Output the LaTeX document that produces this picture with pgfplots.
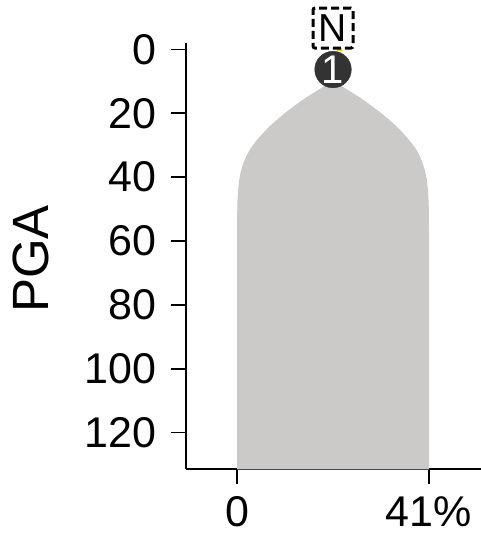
\documentclass[border=0pt]{standalone}
\usepackage{fontspec}
\setmainfont{Liberation Sans}
\usepackage{pgfplots}
\pgfplotsset{compat=1.18}
\definecolor{violin}{RGB}{203,202,201}
\definecolor{dot}{RGB}{51,51,51}
\definecolor{ylw}{RGB}{255,204,0}
\begin{document}
\begin{tikzpicture}
\begin{axis}[
 scale only axis, width=295bp, height=426.6bp,
 xmin=-10.9, xmax=52.1, ymin=-2.1, ymax=131.5, y dir=reverse,
 axis x line*=bottom, axis y line*=left,
 axis line style={line width=2.2bp, black},
 tick style={line width=1.8bp, black},
 tick align=outside, major tick length=15bp,
 xtick={0,41}, xticklabels={0,41\%},
 ytick={0,20,...,120},
 tick label style={font=\fontsize{43bp}{50bp}\selectfont},
 yticklabel style={xshift=-11bp},
 xticklabel style={yshift=-9bp},
 /pgf/number format/assume math mode=true,
 ylabel={PGA},
 ylabel style={font=\fontsize{51bp}{60bp}\selectfont, at={(axis description cs:-0.525,0.493)}, anchor=center},
 clip=false,
]
\addplot[fill=violin, draw=none] coordinates {
 (20.5,7.5) (20.0,9) (18.8,11.3) (17.0,13) (14.8,15) (12.6,17.3) (10.6,19.5) (8.7,21.8) (7.0,24) (5.5,26.3) (4.1,28.6) (2.9,31) (2.0,33.3) (1.3,35.8) (0.8,38.3) (0.45,41) (0.22,44) (0.08,48) (0.02,52) (0,58) (0,131.5)
 (41,131.5) (41,58) (40.98,52) (40.92,48) (40.78,44) (40.55,41) (40.2,38.3) (39.7,35.8) (39.0,33.3) (38.1,31) (36.9,28.6) (35.5,26.3) (34.0,24) (32.3,21.8) (30.4,19.5) (28.4,17.3) (26.2,15) (24.0,13) (22.2,11.3) (21.0,9)
} -- cycle;
\addplot[ylw, line width=3bp] coordinates {(21.4,-0.1) (22.4,-0.1)};
\addplot[draw=none, mark=none, nodes near coords={N},
 every node near coord/.style={anchor=center, draw=black, text=black, line width=3bp, dash pattern=on 8bp off 4bp, fill=white, minimum size=40bp, inner sep=0pt, rounded corners=2bp, font=\fontsize{39bp}{45bp}\selectfont}]
 coordinates {(20.5,-6.7)};
\addplot[only marks, mark=*, mark size=18.3bp, mark options={fill=dot, draw=dot},
 nodes near coords={1},
 every node near coord/.style={anchor=center, text=white, inner sep=0pt, font=\fontsize{40bp}{45bp}\selectfont}]
 coordinates {(20.5,6.3)};
\end{axis}
\pgfresetboundingbox
\path[use as bounding box] (-186bp,-73.7bp) rectangle (295bp,469.3bp);
\end{tikzpicture}
\end{document}
